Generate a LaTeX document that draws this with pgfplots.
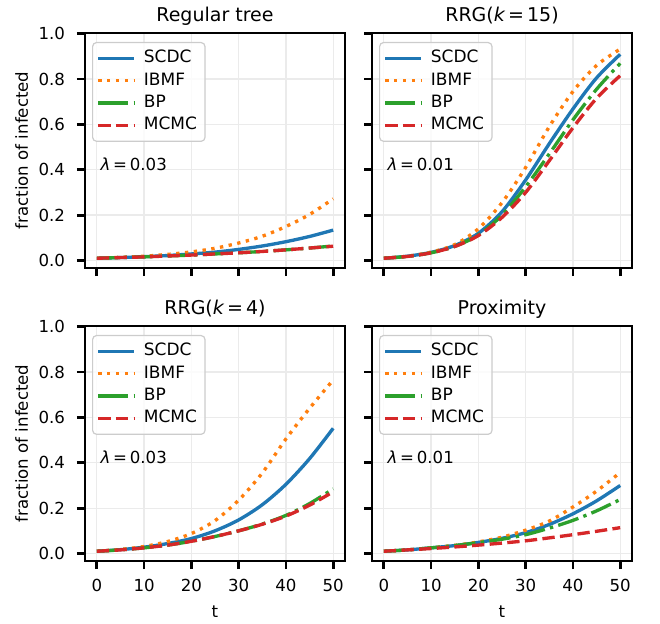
\documentclass[border=0pt]{standalone}
\usepackage{fontspec}
\setmainfont{DejaVu Sans}
\usepackage{pgfplots}
\pgfplotsset{compat=1.18}
\definecolor{cblue}{HTML}{1F77B4}
\definecolor{corange}{HTML}{FF7F0E}
\definecolor{cgreen}{HTML}{2CA02C}
\definecolor{cred}{HTML}{D62728}
\definecolor{gridgray}{HTML}{EBEBEB}
\definecolor{legendgray}{HTML}{CCCCCC}
\newcommand{\tickfont}{\fontsize{8.3bp}{10bp}\selectfont}
\newcommand{\legfont}{\fontsize{8.5bp}{10bp}\selectfont}
\newcommand{\titlefont}{\fontsize{9.5bp}{11bp}\selectfont}
\pgfplotsset{
  panel/.style={
    scale only axis, width=130bp, height=117.5bp,
    xmin=-2.5, xmax=52.5, ymin=-0.033, ymax=1.003,
    xtick={0,10,20,30,40,50}, ytick={0,0.2,0.4,0.6,0.8,1.0},
    grid=major, major grid style={color=gridgray, line width=0.65bp},
    axis line style={line width=1.4bp},
    tick style={line width=1.4bp, black},
    major tick length=4bp, tick align=outside, tick pos=left,
    ticklabel style={font=\tickfont},
    xticklabel style={yshift=-1.5bp, /pgf/number format/assume math mode=true},
    yticklabel style={xshift=-2.5bp, /pgf/number format/.cd, fixed, fixed zerofill, precision=1, assume math mode=true},
    every axis title/.style={font=\titlefont, at={(axis description cs:0.5,1)}, anchor=base, yshift=6bp},
    every axis x label/.style={at={(axis description cs:0.5,0)}, yshift=-28bp, anchor=base, font=\tickfont},
    every axis y label/.style={at={(axis description cs:0,0.5)}, xshift=-28.5bp, rotate=90, anchor=base, font=\tickfont},
    legend cell align=left,
    legend style={at={(0.027,0.962)}, anchor=north west, draw=legendgray, line width=0.6bp,
      rounded corners=2bp, fill=white, fill opacity=0.8, text opacity=1, font=\legfont,
      inner xsep=2bp, inner ysep=2.3bp, row sep=0pt,
      /tikz/every odd column/.append style={column sep=2bp},
      nodes={inner ysep=1.6bp, text height=6.2bp, text depth=1.8bp}},
    legend image code/.code={\draw[#1] (0bp,0bp) -- (18bp,0bp);},
  },
  scdc/.style={color=cblue, line width=1.67bp, solid, line cap=butt, smooth},
  ibmf/.style={color=corange, line width=1.67bp, line cap=butt, dash pattern=on 1.67bp off 2.75bp, smooth},
  bp/.style={color=cgreen, line width=1.67bp, line cap=butt, dash pattern=on 10.67bp off 2.67bp on 1.67bp off 2.67bp, smooth,
    legend image code/.code={\draw[##1, solid] (1bp,0bp) -- (13.5bp,0bp); \path (0bp,0bp) -- (18bp,0bp);}},
  mcmc/.style={color=cred, line width=1.67bp, line cap=butt, dash pattern=on 6.17bp off 2.67bp, smooth},
}
\begin{document}
\begin{tikzpicture}
\useasboundingbox (0,0) rectangle (330bp,-312bp);
% ---------------- Regular tree
\begin{axis}[panel, at={(42.5bp,-16.5bp)}, anchor=north west,
  title={Regular tree}, ylabel={fraction of infected}, xticklabels={}]
\addplot[scdc] coordinates {(0,0.010) (5,0.013) (10,0.017) (15,0.022) (20,0.029) (25,0.037) (30,0.049) (35,0.064) (40,0.083) (45,0.106) (50,0.134)};
\addlegendentry{SCDC\hspace{2bp}}
\addplot[ibmf] coordinates {(0,0.010) (5,0.014) (10,0.019) (15,0.027) (20,0.038) (25,0.054) (30,0.077) (35,0.107) (40,0.150) (45,0.203) (50,0.272)};
\addlegendentry{IBMF\hspace{2bp}}
\addplot[bp] coordinates {(0,0.010) (5,0.013) (10,0.016) (15,0.020) (20,0.024) (25,0.029) (30,0.034) (35,0.040) (40,0.047) (45,0.055) (50,0.064)};
\addlegendentry{BP\hspace{2bp}}
\addplot[mcmc] coordinates {(0,0.010) (5,0.013) (10,0.016) (15,0.020) (20,0.024) (25,0.029) (30,0.034) (35,0.040) (40,0.047) (45,0.055) (50,0.063)};
\addlegendentry{MCMC\hspace{2bp}}
\node[anchor=west, font=\tickfont] at (rel axis cs:0.033,0.44) {{\itshape λ}\,=\,0.03};
\end{axis}
% ---------------- RRG k=15
\begin{axis}[panel, at={(186bp,-16.5bp)}, anchor=north west,
  title={RRG({\itshape k}\,=\,15)}, xticklabels={}, yticklabels={}]
\addplot[scdc] coordinates {(0,0.010) (5,0.019) (10,0.036) (15,0.066) (20,0.120) (25,0.215) (30,0.355) (35,0.515) (40,0.668) (45,0.805) (50,0.909)};
\addlegendentry{SCDC\hspace{2bp}}
\addplot[ibmf] coordinates {(0,0.010) (5,0.019) (10,0.037) (15,0.070) (20,0.140) (25,0.255) (30,0.410) (35,0.590) (40,0.745) (45,0.860) (50,0.932)};
\addlegendentry{IBMF\hspace{2bp}}
\addplot[bp] coordinates {(0,0.010) (5,0.018) (10,0.034) (15,0.062) (20,0.113) (25,0.200) (30,0.325) (35,0.470) (40,0.620) (45,0.755) (50,0.869)};
\addlegendentry{BP\hspace{2bp}}
\addplot[mcmc] coordinates {(0,0.010) (5,0.018) (10,0.034) (15,0.062) (20,0.110) (25,0.190) (30,0.300) (35,0.440) (40,0.585) (45,0.715) (50,0.815)};
\addlegendentry{MCMC\hspace{2bp}}
\node[anchor=west, font=\tickfont] at (rel axis cs:0.033,0.44) {{\itshape λ}\,=\,0.01};
\end{axis}
% ---------------- RRG k=4
\begin{axis}[panel, at={(42.5bp,-163bp)}, anchor=north west,
  title={RRG({\itshape k}\,=\,4)}, ylabel={fraction of infected}, xlabel={t}]
\addplot[scdc] coordinates {(0,0.010) (5,0.017) (10,0.028) (15,0.044) (20,0.066) (25,0.100) (30,0.148) (35,0.215) (40,0.305) (45,0.418) (50,0.552)};
\addlegendentry{SCDC\hspace{2bp}}
\addplot[ibmf] coordinates {(0,0.010) (5,0.018) (10,0.031) (15,0.053) (20,0.088) (25,0.145) (30,0.235) (35,0.355) (40,0.505) (45,0.640) (50,0.765)};
\addlegendentry{IBMF\hspace{2bp}}
\addplot[bp] coordinates {(0,0.010) (5,0.016) (10,0.025) (15,0.037) (20,0.054) (25,0.075) (30,0.100) (35,0.130) (40,0.168) (45,0.220) (50,0.285)};
\addlegendentry{BP\hspace{2bp}}
\addplot[mcmc] coordinates {(0,0.010) (5,0.016) (10,0.025) (15,0.037) (20,0.054) (25,0.075) (30,0.100) (35,0.129) (40,0.165) (45,0.213) (50,0.272)};
\addlegendentry{MCMC\hspace{2bp}}
\node[anchor=west, font=\tickfont] at (rel axis cs:0.033,0.44) {{\itshape λ}\,=\,0.03};
\end{axis}
% ---------------- Proximity
\begin{axis}[panel, at={(186bp,-163bp)}, anchor=north west,
  title={Proximity}, xlabel={t}, yticklabels={}]
\addplot[scdc] coordinates {(0,0.010) (5,0.016) (10,0.025) (15,0.035) (20,0.049) (25,0.067) (30,0.092) (35,0.128) (40,0.175) (45,0.232) (50,0.300)};
\addlegendentry{SCDC\hspace{2bp}}
\addplot[ibmf] coordinates {(0,0.010) (5,0.016) (10,0.025) (15,0.036) (20,0.051) (25,0.072) (30,0.103) (35,0.143) (40,0.205) (45,0.275) (50,0.357)};
\addlegendentry{IBMF\hspace{2bp}}
\addplot[bp] coordinates {(0,0.010) (5,0.016) (10,0.025) (15,0.035) (20,0.048) (25,0.063) (30,0.083) (35,0.112) (40,0.146) (45,0.188) (50,0.238)};
\addlegendentry{BP\hspace{2bp}}
\addplot[mcmc] coordinates {(0,0.010) (5,0.016) (10,0.022) (15,0.029) (20,0.037) (25,0.046) (30,0.056) (35,0.069) (40,0.083) (45,0.098) (50,0.114)};
\addlegendentry{MCMC\hspace{2bp}}
\node[anchor=west, font=\tickfont] at (rel axis cs:0.033,0.44) {{\itshape λ}\,=\,0.01};
\end{axis}
\end{tikzpicture}
\end{document}
